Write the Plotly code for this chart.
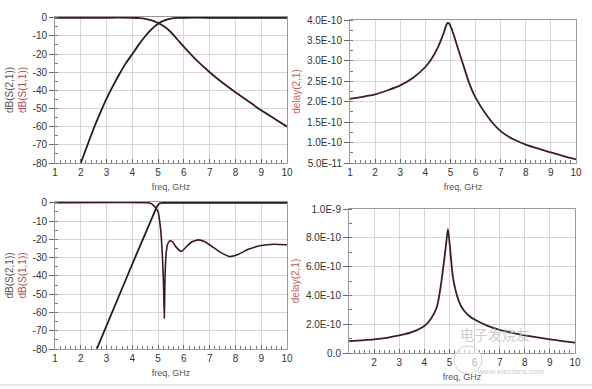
import numpy as np
import plotly.graph_objects as go

# ---------------- data ----------------
freq_ticks = [1, 2, 3, 4, 5, 6, 7, 8, 9, 10]

# top-left: dB(S(2,1)) and dB(S(1,1))
tl_s21_f = [2.0, 2.25, 2.5, 2.75, 3.0, 3.25, 3.5, 3.75, 4.0, 4.25, 4.5, 4.75, 5.0, 5.25, 5.5, 5.75, 6.0, 7.0, 8.0, 9.0, 10.0]
tl_s21 = [-80, -70.5, -61, -52.5, -44.5, -37.5, -31, -25, -20, -14.8, -10.2, -6.3, -3.3, -1.5, -0.5, -0.1, 0, 0, 0, 0, 0]
tl_s11_f = [1, 2, 3, 4, 4.3, 4.5, 4.75, 5.0, 5.25, 5.5, 5.75, 6.0, 6.5, 7.0, 7.5, 8.0, 8.5, 9.0, 9.5, 10.0]
tl_s11 = [0, 0, 0, 0, -0.2, -0.6, -1.5, -2.9, -5.0, -8.0, -12.0, -16.0, -23.5, -30.0, -35.8, -41.0, -46.0, -51.0, -55.5, -60.0]
db_ticks = [0, -10, -20, -30, -40, -50, -60, -70, -80]

# top-right: delay(2,1), in units of 1e-10 s
tr_f = [1, 1.5, 2, 2.5, 3, 3.5, 4, 4.25, 4.5, 4.65, 4.75, 4.82, 4.88, 4.95, 5.05, 5.15, 5.25, 5.5, 5.75, 6.0, 6.5, 7.0, 7.5, 8.0, 8.5, 9.0, 9.5, 10]
tr_delay_e10 = [2.07, 2.12, 2.18, 2.28, 2.40, 2.58, 2.85, 3.05, 3.33, 3.55, 3.72, 3.85, 3.93, 3.91, 3.78, 3.6, 3.4, 2.92, 2.45, 2.1, 1.62, 1.28, 1.08, 0.95, 0.85, 0.76, 0.67, 0.59]
tr_ticks_e10 = [0.5, 1.0, 1.5, 2.0, 2.5, 3.0, 3.5, 4.0]
tr_labels = ["5.0E-11", "1.0E-10", "1.5E-10", "2.0E-10", "2.5E-10", "3.0E-10", "3.5E-10", "4.0E-10"]

# bottom-left: dB(S(2,1)) and dB(S(1,1))
bl_s21_f = [2.62, 3.0, 3.5, 4.0, 4.5, 4.8, 4.95, 5.05, 5.2, 6, 7, 8, 9, 10]
bl_s21 = [-80, -67, -50.5, -33.5, -17, -7, -2.2, -0.4, 0, 0, 0, 0, 0, 0]
bl_s11_f = [1, 4.6, 4.7, 4.8, 4.9, 5.0, 5.07, 5.12, 5.17, 5.21, 5.24, 5.27, 5.31, 5.36, 5.45, 5.55, 5.7, 5.9, 6.1, 6.3, 6.55, 6.8, 7.1, 7.4, 7.78, 8.1, 8.5, 9.0, 9.5, 10]
bl_s11 = [0, 0, -0.3, -1.2, -2.8, -5.0, -11, -18, -30, -45, -63, -40, -28, -23, -20.8, -21.3, -24.3, -26.7, -24, -21.5, -20.3, -21.2, -24, -27, -29.4, -28.3, -25.5, -23.4, -22.7, -23]

# bottom-right: delay(2,1), in units of 1e-10 s
br_f = [1, 1.5, 2, 2.5, 3, 3.5, 4, 4.25, 4.5, 4.65, 4.75, 4.85, 4.94, 5.05, 5.12, 5.2, 5.3, 5.45, 5.6, 5.8, 6.0, 6.5, 7.0, 7.5, 8.0, 8.5, 9.0, 9.5, 10]
br_delay_e10 = [0.83, 0.88, 0.94, 1.05, 1.22, 1.45, 1.88, 2.35, 3.2, 4.6, 5.9, 7.3, 8.6, 6.8, 5.5, 4.7, 4.0, 3.3, 2.9, 2.55, 2.32, 1.9, 1.6, 1.4, 1.23, 1.08, 0.95, 0.83, 0.72]
br_ticks_e10 = [0, 2, 4, 6, 8, 10]
br_labels = ["0.0", "2.0E-10", "4.0E-10", "6.0E-10", "8.0E-10", "1.0E-9"]

# ---------------- style ----------------
W, H = 592, 389
FONT = "Liberation Sans, Arial, sans-serif"
C_S21 = "#1e1e1e"
C_S11 = "#3c1a1d"
C_DELAY = "#3e1f20"
GRID = "#d6d6d6"
FRAME = "#9a9a9a"
TICKC = "#333333"


def px_dom(a, b, total, flip=False):
    if flip:
        return [1 - b / total, 1 - a / total]
    return [a / total, b / total]


fig = go.Figure()

fig.add_trace(go.Scatter(x=tl_s11_f, y=tl_s11, mode="lines", line=dict(color=C_S11, width=1.8, shape="spline", smoothing=0.6), xaxis="x", yaxis="y", showlegend=False))
fig.add_trace(go.Scatter(x=tl_s21_f, y=tl_s21, mode="lines", line=dict(color=C_S21, width=1.8, shape="spline", smoothing=0.6), xaxis="x", yaxis="y", showlegend=False))
fig.add_trace(go.Scatter(x=tr_f, y=np.array(tr_delay_e10) * 1e-10, mode="lines", line=dict(color=C_DELAY, width=1.8, shape="spline", smoothing=0.6), xaxis="x2", yaxis="y2", showlegend=False))
fig.add_trace(go.Scatter(x=bl_s11_f, y=bl_s11, mode="lines", line=dict(color=C_S11, width=1.6, shape="spline", smoothing=0.4), xaxis="x3", yaxis="y3", showlegend=False))
fig.add_trace(go.Scatter(x=bl_s21_f, y=bl_s21, mode="lines", line=dict(color=C_S21, width=1.8, shape="linear"), xaxis="x3", yaxis="y3", showlegend=False))
fig.add_trace(go.Scatter(x=br_f, y=np.array(br_delay_e10) * 1e-10, mode="lines", line=dict(color=C_DELAY, width=1.8, shape="spline", smoothing=0.6), xaxis="x4", yaxis="y4", showlegend=False))


def xaxis(dom, anchor, ticktext=None):
    return dict(domain=dom, anchor=anchor, range=[1, 10], tickvals=freq_ticks,
                ticktext=ticktext if ticktext else [str(v) for v in freq_ticks],
                showgrid=True, gridcolor=GRID, gridwidth=1, zeroline=False,
                showline=True, linecolor=FRAME, linewidth=1, mirror=True,
                ticks="inside", ticklen=4, tickcolor="#666", tickwidth=1,
                minor=dict(ticks="inside", ticklen=3, dtick=0.2, tickcolor="#777", showgrid=False),
                tickfont=dict(family=FONT, size=10, color=TICKC),
                title=dict(text="freq, GHz", font=dict(family=FONT, size=9, color="#555"), standoff=6))


def yaxis(dom, anchor, rng, tickvals, ticktext, title, minor_dtick):
    return dict(domain=dom, anchor=anchor, range=rng, tickvals=tickvals, ticktext=ticktext,
                showgrid=True, gridcolor=GRID, gridwidth=1, zeroline=False,
                showline=True, linecolor=FRAME, linewidth=1, mirror=True,
                ticks="outside", ticklen=5, tickcolor="#666", tickwidth=1,
                minor=dict(ticks="inside", ticklen=3, dtick=minor_dtick, tickcolor="#777", showgrid=False),
                tickfont=dict(family=FONT, size=10, color=TICKC),
                title=dict(text=title, font=dict(family=FONT, size=10, color="#555"), standoff=4))


db_title = "dB(S(2,1))<br><span style='color:#b05050'>dB(S(1,1))</span>"
delay_title = "<span style='color:#c06060'>delay(2,1)</span>"

tl_x = px_dom(55, 287, W)
tl_y = px_dom(17, 163, H, flip=True)
tr_x = px_dom(350, 576, W)
tr_y = px_dom(20, 163, H, flip=True)
bl_x = px_dom(55, 287, W)
bl_y = px_dom(202, 349, H, flip=True)
br_x = px_dom(349, 575, W)
br_y = px_dom(209, 353, H, flip=True)

fig.update_layout(
    width=W, height=H,
    margin=dict(l=0, r=0, t=0, b=0, autoexpand=False),
    paper_bgcolor="white", plot_bgcolor="white",
    font=dict(family=FONT),
    xaxis=xaxis(tl_x, "y"),
    yaxis=yaxis(tl_y, "x", [-80, 0.4], db_ticks, [str(v) for v in db_ticks], db_title, 5),
    xaxis2=xaxis(tr_x, "y2"),
    yaxis2=yaxis(tr_y, "x2", [0.5e-10, 4.0e-10], [v * 1e-10 for v in tr_ticks_e10], tr_labels, delay_title, 0.25e-10),
    xaxis3=xaxis(bl_x, "y3"),
    yaxis3=yaxis(bl_y, "x3", [-80, 0.4], db_ticks, [str(v) for v in db_ticks], db_title, 5),
    xaxis4=xaxis(br_x, "y4", ticktext=[""] + [str(v) for v in freq_ticks[1:]]),
    yaxis4=yaxis(br_y, "x4", [0, 1.0e-9], [v * 1e-10 for v in br_ticks_e10], br_labels, delay_title, 1e-10),
)

# separator line near the bottom
fig.add_shape(type="line", xref="paper", yref="paper", x0=0.0, x1=1.0, y0=1 - 385 / H, y1=1 - 385 / H,
              line=dict(color="#cfcfcf", width=1))

# watermark logo circle
fig.add_shape(type="circle", xref="paper", yref="paper",
              x0=454 / W, x1=482 / W, y0=1 - 374 / H, y1=1 - 346 / H,
              line=dict(color="rgba(200,200,200,0.8)", width=1), fillcolor="rgba(255,255,255,0.6)")

# faint watermark
fig.add_annotation(text="电子发烧友", xref="paper", yref="paper", x=531 / W, y=1 - 345 / H,
                   showarrow=False, borderpad=0,
                   font=dict(family="Noto Sans CJK SC", size=14, color="rgba(185,185,185,0.75)"))
fig.add_annotation(text="www.elecfans.com", xref="paper", yref="paper", x=546 / W, y=1 - 377 / H,
                   showarrow=False, borderpad=0,
                   font=dict(family=FONT, size=8, color="rgba(185,185,185,0.75)"))

fig.write_html("out.html", config={"displayModeBar": False},
               post_script="document.body.style.margin='0';")
